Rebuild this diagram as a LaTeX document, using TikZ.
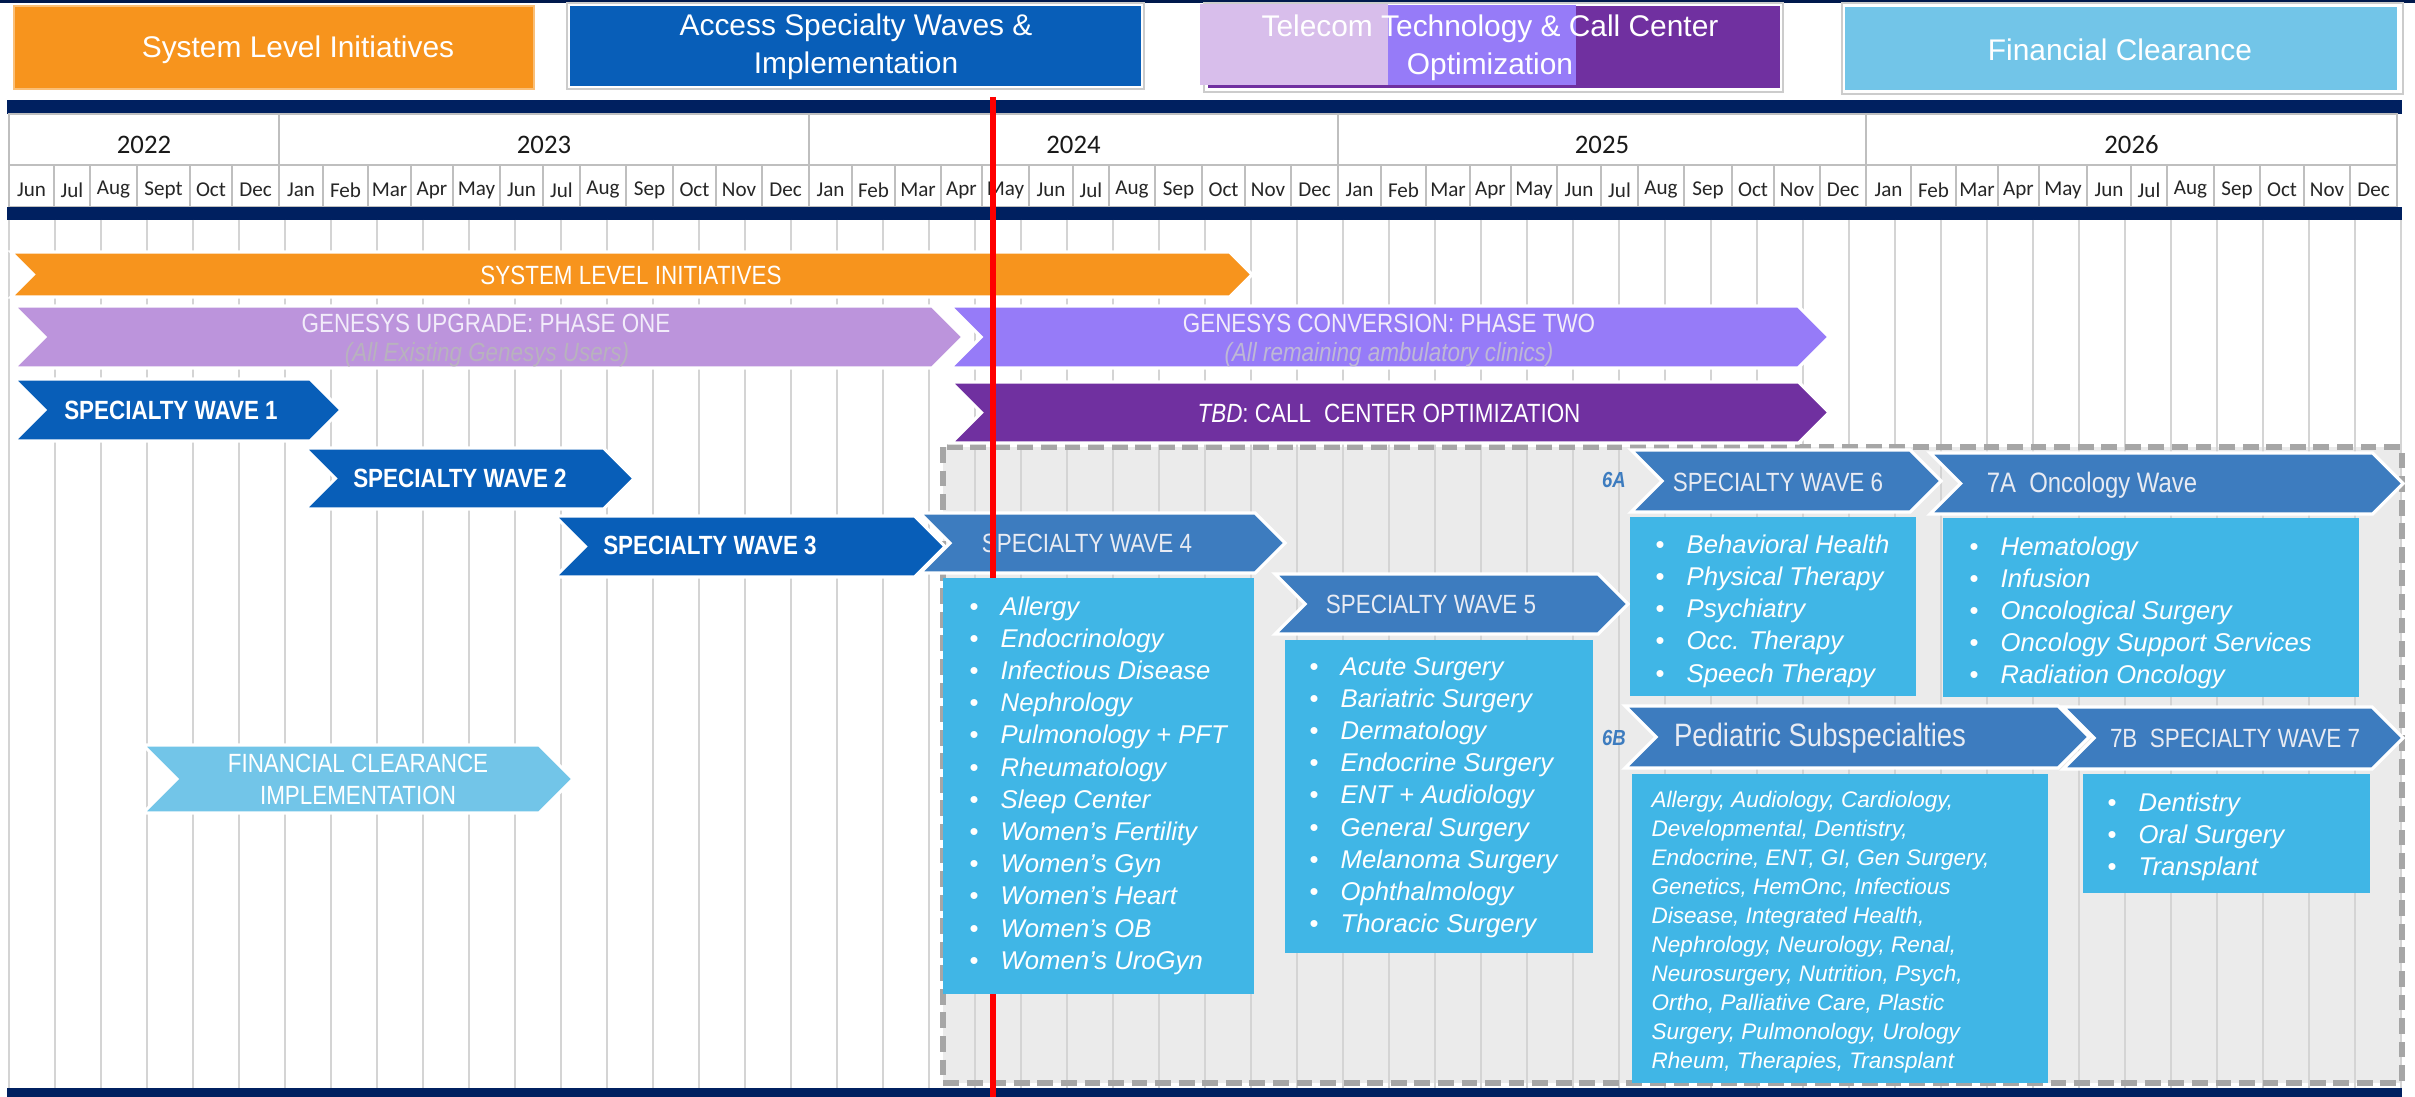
\documentclass[tikz,border=0pt]{standalone}
\usepackage{fontspec}
\setmainfont{Liberation Sans}
\newfontfamily\barfont[FakeStretch=0.85]{Liberation Sans}
\newfontfamily\hdrfont{Carlito}
\usetikzlibrary{positioning}

\definecolor{hdrnavy}{HTML}{002060}
\definecolor{sysorange}{HTML}{F7941D}
\definecolor{waveblue}{HTML}{085EB8}
\definecolor{steelblue}{HTML}{3D7CBF}
\definecolor{genlav}{HTML}{BC94DC}
\definecolor{genpurple}{HTML}{967BF8}
\definecolor{tbdpurple}{HTML}{7030A0}
\definecolor{lightlav}{HTML}{D8BEEB}
\definecolor{fcblue}{HTML}{72C5E8}
\definecolor{listblue}{HTML}{40B6E6}
\definecolor{regiongray}{HTML}{EBEBEB}
\definecolor{dashgray}{HTML}{A6A6A6}
\definecolor{gridgray}{HTML}{D4D4D4}
\definecolor{genwhite}{RGB}{242,236,250}
\definecolor{genonesub}{RGB}{184,178,190}
\definecolor{gentwosub}{RGB}{190,184,214}
\definecolor{wavetext}{RGB}{232,235,243}

% chevron bar: style, left x, tip x, top y, bottom y
\newcommand{\chevbar}[5]{%
  \path[#1] (#2,#4) -- ({#3-(#5-#4)/2},#4) -- (#3,{(#4+#5)/2})
    -- ({#3-(#5-#4)/2},#5) -- (#2,#5) -- ({#2+(#5-#4)/2},{(#4+#5)/2}) -- cycle;}
\newcommand{\itembul}{\llap{\upshape\textbullet\hspace{6.3pt}}}

\begin{document}
\begin{tikzpicture}[x=0.01cm, y=-0.01cm,
  legtxt/.style={text=white, font=\fontsize{8.5}{10.8}\selectfont, align=center, inner sep=0},
  yearlbl/.style={text=black!90, font=\hdrfont\fontsize{7.6}{8}\selectfont, inner sep=0},
  monlbl/.style={text=black!85, font=\hdrfont\fontsize{6}{6.5}\selectfont, inner sep=0},
  cellline/.style={draw=black!25, line width=0.5pt},
  gridline/.style={draw=gridgray, line width=0.6pt},
  bar/.style={draw=white, line width=0.9pt},
  barlbl/.style={text=white, font=\barfont\fontsize{7.5}{9}\selectfont, inner sep=0},
  wavelbl/.style={text=white, font=\barfont\bfseries\fontsize{7.5}{9}\selectfont, inner sep=0},
  steellbl/.style={text=wavetext, font=\barfont\fontsize{7.5}{9}\selectfont, inner sep=0},
  biglbl/.style={text=wavetext, font=\barfont\fontsize{8}{10}\selectfont, inner sep=0},
  subline/.style={font=\barfont\itshape\fontsize{7.5}{9}\selectfont, inner sep=0},
  wavetag/.style={text=steelblue, font=\barfont\bfseries\itshape\fontsize{6.2}{7}\selectfont, inner sep=0},
  listbox/.style={fill=listblue},
  item/.style={anchor=base west, text=white, inner sep=0, font=\itshape\fontsize{7.3}{9}\selectfont},
  pedline/.style={anchor=base west, text=white, inner sep=0, font=\itshape\fontsize{6.4}{8}\selectfont},
]
\useasboundingbox (0,0) rectangle (2415,1097);
\fill[white] (0,0) rectangle (2415,1097);
\fill[hdrnavy!80!black] (0,0) rectangle (2415,3);

%% legend
\filldraw[fill=sysorange, draw=sysorange!60!white, line width=0.4pt] (14,6) rectangle (534,89);
\node[legtxt] (legsys) at (298,50) {System Level Initiatives};
\filldraw[fill=white, draw=black!20, line width=0.4pt] (567,3) rectangle (1144,89);
\fill[waveblue] (570,6) rectangle (1141,86);
\node[legtxt] (legacc) at (856,47) {Access Specialty Waves \&\\Implementation};
\filldraw[fill=white, draw=black!20, line width=0.4pt] (1204,3) rectangle (1783,92);
\fill[tbdpurple] (1208,6) rectangle (1780,88);
\fill[lightlav] (1200,4) rectangle (1388,85);
\fill[genpurple] (1388,5) rectangle (1576,85);
\node[legtxt] (legtel) at (1490,48) {Telecom Technology \& Call Center\\Optimization};
\filldraw[fill=white, draw=black!20, line width=0.4pt] (1842,3) rectangle (2403,94);
\fill[fcblue] (1845,7) rectangle (2397,90);
\node[legtxt] (legfin) at (2120,50) {Financial Clearance};

%% timeline header
\fill[hdrnavy] (7,100) rectangle (2402,114);
\draw[cellline] (9,114) rectangle (2397,207);
\draw[cellline] (9,165) -- (2397,165);
\foreach \xa/\xb/\yr in {9/279/2022, 279/809/2023, 809/1338/2024, 1338/1866/2025, 1866/2397/2026}
{
  \draw[cellline] (\xb,114) -- (\xb,165);
  \node[yearlbl] (yr\yr) at ({(\xa+\xb)/2},145) {\yr};
}
\foreach \xa/\xb/\mn [count=\k] in {9/54/Jun, 54/90/Jul, 90/137/Aug, 137/190/Sept, 190/232/Oct, 232/279/Dec,
  279/323/Jan, 323/368/Feb, 368/411/Mar, 411/453/Apr, 453/500/May, 500/543/Jun, 543/580/Jul, 580/626/Aug, 626/673/Sep, 673/716/Oct, 716/762/Nov, 762/809/Dec,
  809/852/Jan, 852/895/Feb, 895/941/Mar, 941/982/Apr, 982/1029/May, 1029/1073/Jun, 1073/1109/Jul, 1109/1155/Aug, 1155/1202/Sep, 1202/1245/Oct, 1245/1291/Nov, 1291/1338/Dec,
  1338/1381/Jan, 1381/1426/Feb, 1426/1470/Mar, 1470/1511/Apr, 1511/1557/May, 1557/1601/Jun, 1601/1638/Jul, 1638/1684/Aug, 1684/1732/Sep, 1732/1774/Oct, 1774/1820/Nov, 1820/1866/Dec,
  1866/1911/Jan, 1911/1956/Feb, 1956/1998/Mar, 1998/2039/Apr, 2039/2087/May, 2087/2131/Jun, 2131/2167/Jul, 2167/2214/Aug, 2214/2260/Sep, 2260/2304/Oct, 2304/2350/Nov, 2350/2397/Dec}
{
  \draw[cellline] (\xb,165) -- (\xb,207);
  \node[monlbl] (mon\k) at ({(\xa+\xb)/2},190) {\mn};
}
\fill[hdrnavy] (7,207) rectangle (2402,220);

%% body grid
\fill[regiongray] (943,447) rectangle (2402,1083);
\foreach \k in {0,...,52}
  \draw[gridline] ({9+46*\k},220) -- ({9+46*\k},1088);
\draw[dashgray, line width=1.7pt, dash pattern=on 4.5pt off 2.2pt] (943,447) rectangle (2402,1083);
\fill[hdrnavy] (7,1088) rectangle (2402,1097);

%% bars
\chevbar{bar, fill=sysorange}{11}{1252}{252}{297}
\chevbar{bar, fill=genpurple}{950}{1829}{306}{368}
\chevbar{bar, fill=genlav}{14}{963}{306}{368}
\chevbar{bar, fill=tbdpurple}{951}{1829}{382}{443}
\chevbar{bar, fill=waveblue}{14}{341}{379}{441}
\chevbar{bar, fill=waveblue}{305}{634}{448}{509}
\chevbar{bar, fill=steelblue}{920}{1285}{513}{573}
\chevbar{bar, fill=waveblue}{555}{945}{516}{577}
\chevbar{bar, fill=steelblue}{1275}{1628}{574}{634}
\chevbar{bar, fill=steelblue}{1631}{1941}{450}{512}
\chevbar{bar, fill=steelblue}{1930}{2403}{453}{514}
\chevbar{bar, fill=steelblue}{1625}{2089}{706}{768}
\chevbar{bar, fill=steelblue}{2063}{2403}{707}{769}
\chevbar{bar, fill=fcblue}{143}{573}{745}{813}

\node[barlbl] (sysL) at (631,275) {SYSTEM LEVEL INITIATIVES};
\node[barlbl, text=genwhite] (genoneL) at (486,323) {GENESYS UPGRADE: PHASE ONE};
\node[subline, text=genonesub] (genoneS) at (487,355) {(All Existing Genesys Users)};
\node[barlbl, text=genwhite] (gentwoL) at (1389,323) {GENESYS CONVERSION: PHASE TWO};
\node[subline, text=gentwosub] (gentwoS) at (1389,355) {(All remaining ambulatory clinics)};
\node[barlbl] (tbdL) at (1389,413) {\textit{TBD}: CALL\hspace{2pt} CENTER OPTIMIZATION};
\node[wavelbl] (wone) at (171,410) {SPECIALTY WAVE 1};
\node[wavelbl] (wtwo) at (460,478) {SPECIALTY WAVE 2};
\node[wavelbl] (wthree) at (710,545) {SPECIALTY WAVE 3};
\node[steellbl] (wfour) at (1087,543) {SPECIALTY WAVE 4};
\node[steellbl] (wfive) at (1431,604) {SPECIALTY WAVE 5};
\node[steellbl] (wsix) at (1778,482) {SPECIALTY WAVE 6};
\node[biglbl] (wsevA) at (2092,485) {7A\ \ Oncology Wave};
\node[biglbl, font=\barfont\fontsize{9.2}{11}\selectfont] (wped) at (1820,738) {Pediatric Subspecialties};
\node[steellbl] (wsevB) at (2235,738) {7B\ \ SPECIALTY WAVE 7};
\node[barlbl, align=center, font=\barfont\fontsize{7.5}{9.1}\selectfont] (fcL) at (358,779) {FINANCIAL CLEARANCE\\IMPLEMENTATION};
\node[wavetag] (tagA) at (1614,480) {6A};
\node[wavetag] (tagB) at (1614,738) {6B};

%% today
\coordinate (redtop) at (993,97);
\coordinate (redbot) at (993,1097);
\draw[red, line width=1.7pt] (redtop) -- (redbot);

%% lists
\fill[listbox] (943,578) rectangle (1254,994);
\foreach \t [count=\i from 0] in {Allergy, Endocrinology, Infectious Disease, Nephrology, Pulmonology + PFT, Rheumatology, Sleep Center, Women’s Fertility, Women’s Gyn, Women’s Heart, Women’s OB, Women’s UroGyn}
  \node[item] (wfour-\i) at (1000,{615+32.2*\i}) {\itembul\t};
\fill[listbox] (1285,640) rectangle (1593,953);
\foreach \t [count=\i from 0] in {Acute Surgery, Bariatric Surgery, Dermatology, Endocrine Surgery, ENT + Audiology, General Surgery, Melanoma Surgery, Ophthalmology, Thoracic Surgery}
  \node[item] (wfive-\i) at (1340,{675+32.2*\i}) {\itembul\t};
\fill[listbox] (1630,517) rectangle (1916,696);
\foreach \t [count=\i from 0] in {Behavioral Health, Physical Therapy, Psychiatry, Occ. Therapy, Speech Therapy}
  \node[item] (wsix-\i) at (1686,{553+32.3*\i}) {\itembul\t};
\fill[listbox] (1943,518) rectangle (2359,697);
\foreach \t [count=\i from 0] in {Hematology, Infusion, Oncological Surgery, Oncology Support Services, Radiation Oncology}
  \node[item] (wsevA-\i) at (2000,{555+32.2*\i}) {\itembul\t};
\fill[listbox] (1632,774) rectangle (2048,1083);
\foreach \t [count=\i from 0] in {{Allergy, Audiology, Cardiology,}, {Developmental, Dentistry,}, {Endocrine, ENT, GI, Gen Surgery,}, {Genetics, HemOnc, Infectious}, {Disease, Integrated Health,}, {Nephrology, Neurology, Renal,}, {Neurosurgery, Nutrition, Psych,}, {Ortho, Palliative Care, Plastic}, {Surgery, Pulmonology, Urology}, {Rheum, Therapies, Transplant}}
  \node[pedline] (wped-\i) at (1651,{807+29.1*\i}) {\t};
\fill[listbox] (2083,774) rectangle (2370,893);
\foreach \t [count=\i from 0] in {Dentistry, Oral Surgery, Transplant}
  \node[item] (wsevB-\i) at (2138,{811+32*\i}) {\itembul\t};
%
\end{tikzpicture}
\end{document}
